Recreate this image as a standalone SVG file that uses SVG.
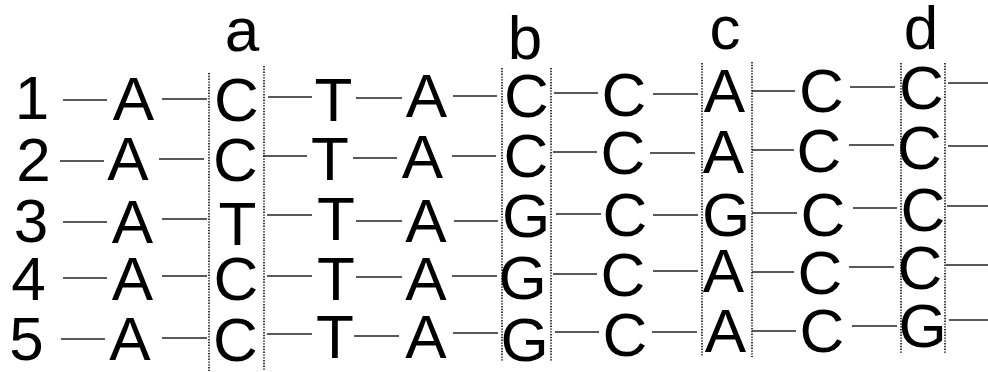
<svg xmlns="http://www.w3.org/2000/svg" width="988" height="372" viewBox="0 0 988 372">
  <style>
    text { font-family: "Liberation Sans", Arial, sans-serif; font-size: 62px; fill: #000; text-anchor: middle; }
    .link line { stroke: #222; stroke-width: 1.4; }
    .col line { stroke: #111; stroke-width: 1.6; stroke-dasharray: 1.4 1.4; }
  </style>
  <rect width="988" height="372" fill="#fff"/>

  <!-- column markers: dotted frames around the variable sites -->
  <g id="columns" class="col">
    <line x1="209" y1="73" x2="209" y2="371"/>
    <line x1="264" y1="66" x2="264" y2="371"/>
    <line x1="502" y1="68" x2="502" y2="362"/>
    <line x1="551" y1="68" x2="551" y2="362"/>
    <line x1="702" y1="63" x2="702" y2="357"/>
    <line x1="752" y1="62" x2="752" y2="357"/>
    <line x1="901" y1="63" x2="901" y2="353"/>
    <line x1="945" y1="63" x2="945" y2="353"/>
  </g>

  <!-- column labels -->
  <g id="label-a"><text x="242" y="51">a</text></g>
  <g id="label-b"><text x="525" y="59">b</text></g>
  <g id="label-c"><text x="725" y="49">c</text></g>
  <g id="label-d"><text x="921" y="49">d</text></g>

  <!-- connectors between consecutive bases -->
  <g id="connectors" class="link">
    <line x1="63" y1="100" x2="107" y2="100"/><line x1="162" y1="99" x2="207" y2="99"/>
    <line x1="268" y1="97" x2="312" y2="97"/><line x1="356" y1="98" x2="402" y2="98"/>
    <line x1="453" y1="96" x2="497" y2="96"/><line x1="554" y1="93" x2="598" y2="93"/>
    <line x1="653" y1="94" x2="698" y2="94"/><line x1="752" y1="91" x2="795" y2="91"/>
    <line x1="850" y1="87" x2="895" y2="87"/><line x1="948" y1="83" x2="988" y2="83"/>

    <line x1="60" y1="161" x2="104" y2="161"/><line x1="159" y1="159" x2="204" y2="159"/>
    <line x1="263" y1="156" x2="307" y2="156"/><line x1="353" y1="158" x2="397" y2="158"/>
    <line x1="452" y1="156" x2="496" y2="156"/><line x1="553" y1="152" x2="597" y2="152"/>
    <line x1="650" y1="153" x2="695" y2="153"/><line x1="752" y1="150" x2="794" y2="150"/>
    <line x1="849" y1="145" x2="894" y2="145"/><line x1="948" y1="146" x2="988" y2="146"/>

    <line x1="63" y1="222" x2="107" y2="222"/><line x1="162" y1="219" x2="207" y2="219"/>
    <line x1="267" y1="215" x2="312" y2="215"/><line x1="356" y1="221" x2="402" y2="221"/>
    <line x1="454" y1="221" x2="498" y2="221"/><line x1="556" y1="214" x2="601" y2="214"/>
    <line x1="653" y1="215" x2="698" y2="215"/><line x1="752" y1="213" x2="797" y2="213"/>
    <line x1="853" y1="208" x2="897" y2="208"/><line x1="947" y1="206" x2="988" y2="206"/>

    <line x1="63" y1="278" x2="107" y2="278"/><line x1="162" y1="276" x2="207" y2="276"/>
    <line x1="267" y1="276" x2="312" y2="276"/><line x1="356" y1="277" x2="402" y2="277"/>
    <line x1="452" y1="276" x2="497" y2="276"/><line x1="553" y1="274" x2="597" y2="274"/>
    <line x1="653" y1="271" x2="698" y2="271"/><line x1="752" y1="272" x2="794" y2="272"/>
    <line x1="849" y1="267" x2="894" y2="267"/><line x1="946" y1="265" x2="988" y2="265"/>

    <line x1="61" y1="339" x2="105" y2="339"/><line x1="162" y1="338" x2="207" y2="338"/>
    <line x1="267" y1="334" x2="312" y2="334"/><line x1="354" y1="336" x2="399" y2="336"/>
    <line x1="453" y1="333" x2="498" y2="333"/><line x1="555" y1="332" x2="599" y2="332"/>
    <line x1="652" y1="332" x2="697" y2="332"/><line x1="752" y1="331" x2="796" y2="331"/>
    <line x1="852" y1="326" x2="897" y2="326"/><line x1="949" y1="320" x2="988" y2="320"/>
  </g>

  <!-- sequence 1 -->
  <g id="s1-id"><text x="32" y="119">1</text></g>
  <g id="s1-p1"><text x="133.5" y="120">A</text></g>
  <g id="s1-p2"><text x="236.5" y="121">C</text></g>
  <g id="s1-p3"><text x="333.5" y="121">T</text></g>
  <g id="s1-p4"><text x="426.5" y="117">A</text></g>
  <g id="s1-p5"><text x="526.5" y="117">C</text></g>
  <g id="s1-p6"><text x="624" y="116">C</text></g>
  <g id="s1-p7"><text x="724.5" y="112">A</text></g>
  <g id="s1-p8"><text x="821.5" y="112">C</text></g>
  <g id="s1-p9"><text x="921.5" y="109">C</text></g>

  <!-- sequence 2 -->
  <g id="s2-id"><text x="33.5" y="181">2</text></g>
  <g id="s2-p1"><text x="128" y="180">A</text></g>
  <g id="s2-p2"><text x="235.5" y="181">C</text></g>
  <g id="s2-p3"><text x="330" y="180">T</text></g>
  <g id="s2-p4"><text x="422.5" y="178">A</text></g>
  <g id="s2-p5"><text x="526" y="177">C</text></g>
  <g id="s2-p6"><text x="623" y="174">C</text></g>
  <g id="s2-p7"><text x="723.5" y="173">A</text></g>
  <g id="s2-p8"><text x="819" y="172">C</text></g>
  <g id="s2-p9"><text x="919.5" y="169">C</text></g>

  <!-- sequence 3 -->
  <g id="s3-id"><text x="31" y="242">3</text></g>
  <g id="s3-p1"><text x="132.5" y="243">A</text></g>
  <g id="s3-p2"><text x="237.5" y="245">T</text></g>
  <g id="s3-p3"><text x="336" y="240">T</text></g>
  <g id="s3-p4"><text x="426" y="242">A</text></g>
  <g id="s3-p5"><text x="526" y="237">G</text></g>
  <g id="s3-p6"><text x="625" y="236">C</text></g>
  <g id="s3-p7"><text x="726" y="236">G</text></g>
  <g id="s3-p8"><text x="823" y="236">C</text></g>
  <g id="s3-p9"><text x="923" y="231">C</text></g>

  <!-- sequence 4 -->
  <g id="s4-id"><text x="28.5" y="300">4</text></g>
  <g id="s4-p1"><text x="132.5" y="300">A</text></g>
  <g id="s4-p2"><text x="236" y="300">C</text></g>
  <g id="s4-p3"><text x="336" y="300">T</text></g>
  <g id="s4-p4"><text x="426" y="300">A</text></g>
  <g id="s4-p5"><text x="522.5" y="299">G</text></g>
  <g id="s4-p6"><text x="623" y="296">C</text></g>
  <g id="s4-p7"><text x="723.5" y="292">A</text></g>
  <g id="s4-p8"><text x="820" y="294">C</text></g>
  <g id="s4-p9"><text x="920" y="289">C</text></g>

  <!-- sequence 5 -->
  <g id="s5-id"><text x="26.5" y="360">5</text></g>
  <g id="s5-p1"><text x="130" y="360">A</text></g>
  <g id="s5-p2"><text x="235.5" y="361">C</text></g>
  <g id="s5-p3"><text x="335" y="358">T</text></g>
  <g id="s5-p4"><text x="426" y="358">A</text></g>
  <g id="s5-p5"><text x="524.5" y="361">G</text></g>
  <g id="s5-p6"><text x="625" y="356">C</text></g>
  <g id="s5-p7"><text x="725.5" y="352">A</text></g>
  <g id="s5-p8"><text x="822" y="352">C</text></g>
  <g id="s5-p9"><text x="922.5" y="347">G</text></g>
</svg>
